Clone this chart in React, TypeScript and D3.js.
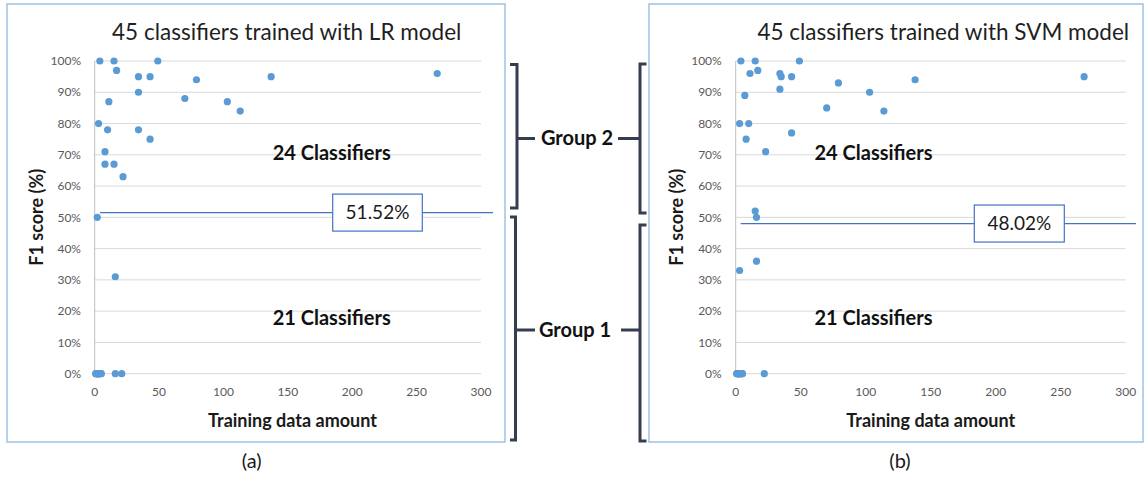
import React from "react";
import * as d3 from "d3";

// ---- Data ----
const xTicks = [0, 50, 100, 150, 200, 250, 300];
const yTicks = [0, 10, 20, 30, 40, 50, 60, 70, 80, 90, 100];

// LR model: training data amount vs F1 score (%)
const lrAmount = [
  4, 15, 17, 49, 34, 43, 137, 266, 79, 34, 11, 70, 103, 113, 3, 10, 34, 43, 8, 8, 15, 22,
  2, 16,
  1, 1, 1, 1, 2, 2, 2, 2, 3, 3, 3, 3, 4, 4, 4, 5, 5, 16, 21,
];
const lrF1 = [
  100, 100, 97, 100, 95, 95, 95, 96, 94, 90, 87, 88, 87, 84, 80, 78, 78, 75, 71, 67, 67, 63,
  50, 31,
  0, 0, 0, 0, 0, 0, 0, 0, 0, 0, 0, 0, 0, 0, 0, 0, 0, 0, 0,
];

// SVM model
const svmAmount = [
  4, 15, 17, 11, 49, 34, 35, 43, 138, 268, 79, 34, 103, 7, 70, 114, 3, 10, 43, 8, 23, 15, 16,
  16, 3,
  1, 1, 1, 1, 2, 2, 2, 2, 3, 3, 3, 3, 4, 4, 4, 5, 5, 5, 22,
];
const svmF1 = [
  100, 100, 97, 96, 100, 96, 95, 95, 94, 95, 93, 91, 90, 89, 85, 84, 80, 80, 77, 75, 71, 52, 50,
  36, 33,
  0, 0, 0, 0, 0, 0, 0, 0, 0, 0, 0, 0, 0, 0, 0, 0, 0, 0, 0,
];

const panelTitles = ["45 classifiers trained with LR model", "45 classifiers trained with SVM model"];
const thresholds = [51.52, 48.02];
const groupCounts = ["24 Classifiers", "21 Classifiers"];
const panelLabels = ["(a)", "(b)"];
const groupLabels = ["Group 2", "Group 1"];

const FONT = "Lato, 'Open Sans', sans-serif";
const DOT = "#5B9BD5";
const GRID = "#D9D9D9";
const LINEBLUE = "#4472C4";
const BRACKET = "#343E4E";

type ChartProps = {
  xs: number[];
  ys: number[];
  x0: number; // pixel of x=0
  x1: number; // pixel of x=300
  panel: [number, number, number, number];
  title: string;
  titleX: number;
  threshold: number;
  lineX: [number, number];
  boxX: [number, number];
  countX: number;
  xTitleX: number;
  yTitleX: number;
  tickRight: number;
  label: string;
  labelX: number;
};

function Chart(p: ChartProps) {
  const x = d3.scaleLinear().domain([0, 300]).range([p.x0, p.x1]);
  const y = d3.scaleLinear().domain([0, 100]).range([373.7, 61]);
  const ty = y(p.threshold);
  const [px, py, pw, ph] = p.panel;
  return (
    <g fontFamily={FONT}>
      <rect x={px} y={py} width={pw} height={ph} fill="#fff" stroke="#9DC3E6" strokeWidth={1.5} />
      <text x={p.titleX} y={40} textAnchor="middle" fontSize={22.5} fill="#1f1f1f">
        {p.title}
      </text>
      {yTicks.map((t) => (
        <g key={"y" + t}>
          <line x1={p.x0} x2={p.x1} y1={y(t)} y2={y(t)} stroke={GRID} strokeWidth={1} />
          <text x={p.tickRight} y={y(t)} dy="0.35em" textAnchor="end" fontSize={12} fill="#595959">
            {t + "%"}
          </text>
        </g>
      ))}
      <line x1={p.x0} x2={p.x0} y1={y(100)} y2={y(0)} stroke="#BFBFBF" strokeWidth={1} />
      {xTicks.map((t) => (
        <text key={"x" + t} x={x(t)} y={395.5} textAnchor="middle" fontSize={12} fill="#595959">
          {t}
        </text>
      ))}
      <text x={p.xTitleX} y={426.5} textAnchor="middle" fontSize={18} fontWeight="bold" fill="#1a1a1a">
        Training data amount
      </text>
      <text
        transform={`translate(${p.yTitleX},${(y(100) + y(0)) / 2}) rotate(-90)`}
        textAnchor="middle"
        dy="0.35em"
        fontSize={18}
        fontWeight="bold"
        fill="#1a1a1a"
      >
        F1 score (%)
      </text>
      {p.xs.map((v, i) => (
        <circle key={i} cx={x(v)} cy={y(p.ys[i])} r={3.6} fill={DOT} />
      ))}
      <line x1={p.lineX[0]} x2={p.lineX[1]} y1={ty} y2={ty} stroke={LINEBLUE} strokeWidth={1.2} />
      <rect
        x={p.boxX[0]}
        y={ty - 18.5}
        width={p.boxX[1] - p.boxX[0]}
        height={37}
        fill="#fff"
        stroke={LINEBLUE}
        strokeWidth={1.2}
      />
      <text x={(p.boxX[0] + p.boxX[1]) / 2} y={ty} dy="0.36em" textAnchor="middle" fontSize={19} fill="#1a1a1a">
        {p.threshold.toFixed(2) + "%"}
      </text>
      <text x={p.countX} y={160} textAnchor="middle" fontSize={20} fontWeight="bold" fill="#111">
        {groupCounts[0]}
      </text>
      <text x={p.countX} y={325} textAnchor="middle" fontSize={20} fontWeight="bold" fill="#111">
        {groupCounts[1]}
      </text>
      <text x={p.labelX} y={468} textAnchor="middle" fontSize={20} fill="#1a1a1a">
        {p.label}
      </text>
    </g>
  );
}

function Brackets() {
  const sw = 3;
  return (
    <g fontFamily={FONT} stroke={BRACKET} fill="none" strokeWidth={sw}>
      {/* Group 2 */}
      <path d="M510,64.5 H517 V208 H510" />
      <line x1={517} x2={535} y1={138.5} y2={138.5} />
      <path d="M646.5,64 H640 V213 H646.5" />
      <line x1={618} x2={640} y1={138.5} y2={138.5} />
      {/* Group 1 */}
      <path d="M510,217 H515.5 V440 H510" />
      <line x1={515.5} x2={535} y1={330} y2={330} />
      <path d="M646.5,225 H640 V441 H646.5" />
      <line x1={621} x2={640} y1={330} y2={330} />
      <text x={577} y={145} textAnchor="middle" fontSize={20} fontWeight="bold" fill="#111" stroke="none">
        {groupLabels[0]}
      </text>
      <text x={575} y={336.5} textAnchor="middle" fontSize={20} fontWeight="bold" fill="#111" stroke="none">
        {groupLabels[1]}
      </text>
    </g>
  );
}

export default function App() {
  return (
    <svg
      width={1147}
      height={477}
      style={{ position: "absolute", left: 0, top: 0, background: "#fff" }}
    >
      <rect width={1147} height={477} fill="#fff" />
      <Chart
        xs={lrAmount}
        ys={lrF1}
        x0={94.7}
        x1={481}
        panel={[7, 4, 498, 438]}
        title={panelTitles[0]}
        titleX={286.7}
        threshold={thresholds[0]}
        lineX={[100, 493]}
        boxX={[332.7, 422.3]}
        countX={331.7}
        xTitleX={292.5}
        yTitleX={37}
        tickRight={81}
        label={panelLabels[0]}
        labelX={251.7}
      />
      <Chart
        xs={svmAmount}
        ys={svmF1}
        x0={735.7}
        x1={1125.7}
        panel={[649, 4, 494, 438]}
        title={panelTitles[1]}
        titleX={943.3}
        threshold={thresholds[1]}
        lineX={[740.7, 1136]}
        boxX={[974.3, 1064.3]}
        countX={873.5}
        xTitleX={930.8}
        yTitleX={677}
        tickRight={721.7}
        label={panelLabels[1]}
        labelX={900}
      />
      <Brackets />
    </svg>
  );
}
